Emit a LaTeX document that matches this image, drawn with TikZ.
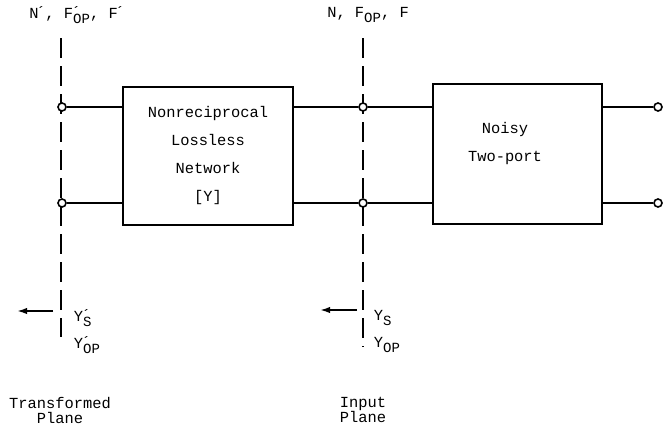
\documentclass[tikz,border=0pt]{standalone}
\usepackage{fontspec}
\setmainfont{Liberation Mono}
\usetikzlibrary{arrows.meta,positioning}

% prime and subscript as typed on the original
\newcommand{\pr}{\kern-0.15em\raisebox{0.1ex}{´}}
\newcommand{\prs}{\rlap{\kern-0.1em\raisebox{0.1ex}{´}}}
\newcommand{\sub}[1]{\raisebox{-0.55ex}{\fontsize{7}{8}\selectfont #1}}

\begin{document}
\begin{tikzpicture}[
  x=0.5pt, y=-0.5pt,
  font=\fontsize{7.7}{7.5}\selectfont,
  line width=0.9pt,
  >={Latex[length=5pt,width=3.2pt]},
  blk/.style={draw, line width=1pt, align=center, inner sep=0pt,
    font=\fontsize{7.7}{14}\selectfont},
  term/.style={draw, circle, fill=white, line width=0.8pt, minimum size=4pt, inner sep=0pt},
  plane/.style={dash pattern=on 10pt off 4pt, line width=0.9pt},
  lbl/.style={inner sep=0pt, align=center}
]
  \useasboundingbox (0,0) rectangle (663,429);

  % blocks
  \node[blk, minimum width=85pt, minimum height=69pt] (net) at (208,156)
    {Nonreciprocal\\Lossless\\Network\\{[Y]}};
  \node[blk, minimum width=84.5pt, minimum height=70pt] (two) at (517.5,154) {};
  \node[lbl, font=\fontsize{7.7}{14}\selectfont] (twotxt) at (505,144) {Noisy\\Two-port};

  % reference planes
  \coordinate (ttop) at (61,38);
  \coordinate (tbot) at (61,337);
  \coordinate (itop) at (363,38);
  \coordinate (ibot) at (363,347);
  \draw[plane] (ttop) -- (tbot);
  \draw[plane] (itop) -- (ibot);

  % terminals
  \node[term] (ta) at (62,107) {};
  \node[term] (tb) at (62,203) {};
  \node[term] (ia) at (363,107) {};
  \node[term] (ib) at (363,203) {};
  \node[term] (oa) at (658,107) {};
  \node[term] (ob) at (658,203) {};

  % wires
  \draw (ta) -- (ta -| net.west);
  \draw (tb) -- (tb -| net.west);
  \draw (net.east |- ia) -- (ia) -- (ia -| two.west);
  \draw (net.east |- ib) -- (ib) -- (ib -| two.west);
  \draw (two.east |- oa) -- (oa);
  \draw (two.east |- ob) -- (ob);

  % looking-in arrows
  \coordinate (tarr) at (53,311);
  \coordinate (tend) at (17,311);
  \coordinate (iarr) at (357,310);
  \coordinate (iend) at (320,310);
  \draw[->] (tarr) -- (tend);
  \draw[->] (iarr) -- (iend);

  % labels
  \node[lbl] (nt) at (77,15) {N\pr, F\prs\sub{OP}, F\pr};
  \node[lbl] (ni) at (368,15) {N, F\sub{OP}, F};
  \node[lbl, anchor=west] (yst) at (73,318) {Y\prs\sub{S}};
  \node[lbl, anchor=west] (yopt) at (73,345) {Y\prs\sub{OP}};
  \node[lbl, anchor=west] (ysi) at (373,318) {Y\sub{S}};
  \node[lbl, anchor=west] (yopi) at (373,345) {Y\sub{OP}};
  \node[lbl] (tpl) at (60,410) {Transformed\\Plane};
  \node[lbl] (ipl) at (363,410) {Input\\Plane};
\end{tikzpicture}
\end{document}
